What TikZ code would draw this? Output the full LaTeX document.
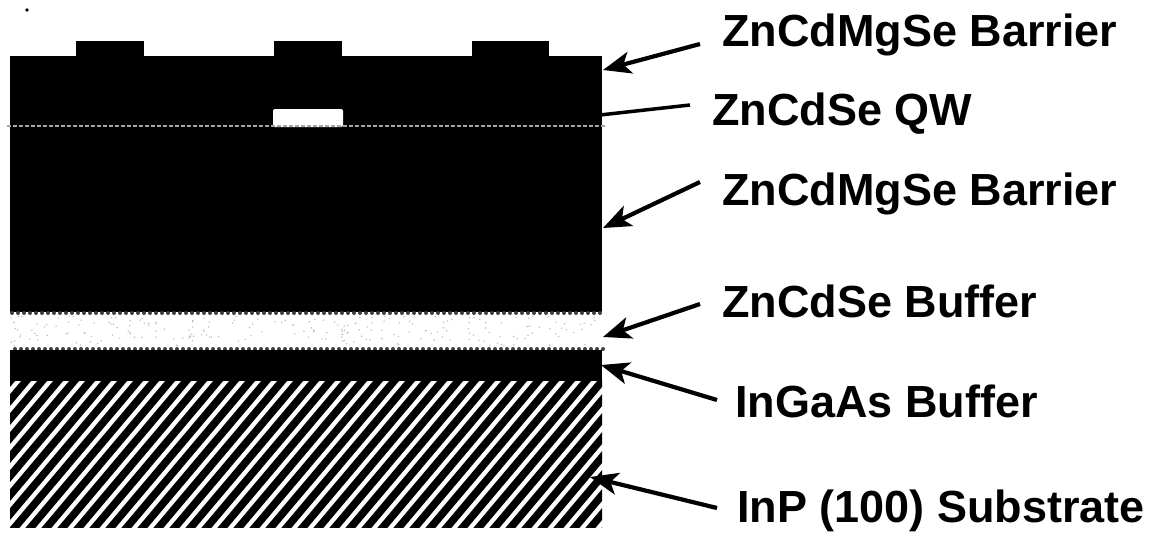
\documentclass[tikz,border=0pt]{standalone}
\usepackage{fontspec}
\setmainfont{Liberation Sans}
\usetikzlibrary{arrows.meta}
\begin{document}
\begin{tikzpicture}[x=1pt,y=-1pt,
  lbl/.style={anchor=base west, font=\fontsize{45}{45}\selectfont\bfseries, inner sep=0pt},
  pointer/.style={line width=4.2pt, -{Stealth[length=28pt,width=22pt,inset=7pt]}},
  leader/.style={line width=3.5pt},
  stripe/.style={line width=7.6pt}]
\useasboundingbox (0,0) rectangle (1174,539);
% ZnCdMgSe layers with the three cap mesas
\fill (10,56) rectangle (602,312);
\fill (76,41) rectangle (144,57);
\fill (274,41) rectangle (342,57);
\fill (472,41) rectangle (549,57);
% ZnCdSe quantum well window and its level line
\fill[white, rounded corners=2pt] (273,109) rectangle (343,127);
\draw[gray!70, line width=1.3pt, dash pattern=on 4pt off 2pt] (7,126) -- (605,126);
% ZnCdSe buffer (white band) with grainy edges
\foreach \xx in {12,18,...,600} {
  \fill[black!75] (\xx,313) circle (2pt);
  \fill[black!75] (\xx+3,349) circle (2pt);
}
\pgfmathsetseed{11}
\foreach \k in {1,...,220} {
  \pgfmathsetmacro\px{11+rnd*589}
  \pgfmathsetmacro\py{316+rnd*30}
  \fill[gray!55] (\px,\py) circle (0.8pt);
}
% InGaAs buffer
\fill (10,350) rectangle (602,381);
% InP substrate, hatched
\begin{scope}
  \clip (10,380) rectangle (602,527);
  \foreach \i in {-12,...,40}
    \draw[stripe] (\i*16,545) -- ++(160,-190);
\end{scope}
% speck
\fill (27,10) circle (1.8pt);
% labels
\node[lbl] (l1) at (722,46) {ZnCdMgSe Barrier};
\node[lbl] (l2) at (712,125) {ZnCdSe QW};
\node[lbl] (l3) at (722,205) {ZnCdMgSe Barrier};
\node[lbl] (l4) at (722,317) {ZnCdSe Buffer};
\node[lbl] (l5) at (735,417) {InGaAs Buffer};
\node[lbl] (l6) at (737,522) {InP (100) Substrate};
% arrow ends
\coordinate (s1) at (700,44);
\coordinate (t1) at (603,70);
\coordinate (s2) at (690,105);
\coordinate (t2) at (600,115);
\coordinate (s3) at (700,182);
\coordinate (t3) at (603,228);
\coordinate (s4) at (700,304);
\coordinate (t4) at (603,337);
\coordinate (s5) at (717,400);
\coordinate (t5) at (601,365);
\coordinate (s6) at (717,508);
\coordinate (t6) at (590,477);
\draw[pointer] (s1) -- (t1);
\draw[leader] (s2) -- (t2);
\draw[pointer] (s3) -- (t3);
\draw[pointer] (s4) -- (t4);
\draw[pointer] (s5) -- (t5);
\draw[pointer] (s6) -- (t6);
\end{tikzpicture}
\end{document}
